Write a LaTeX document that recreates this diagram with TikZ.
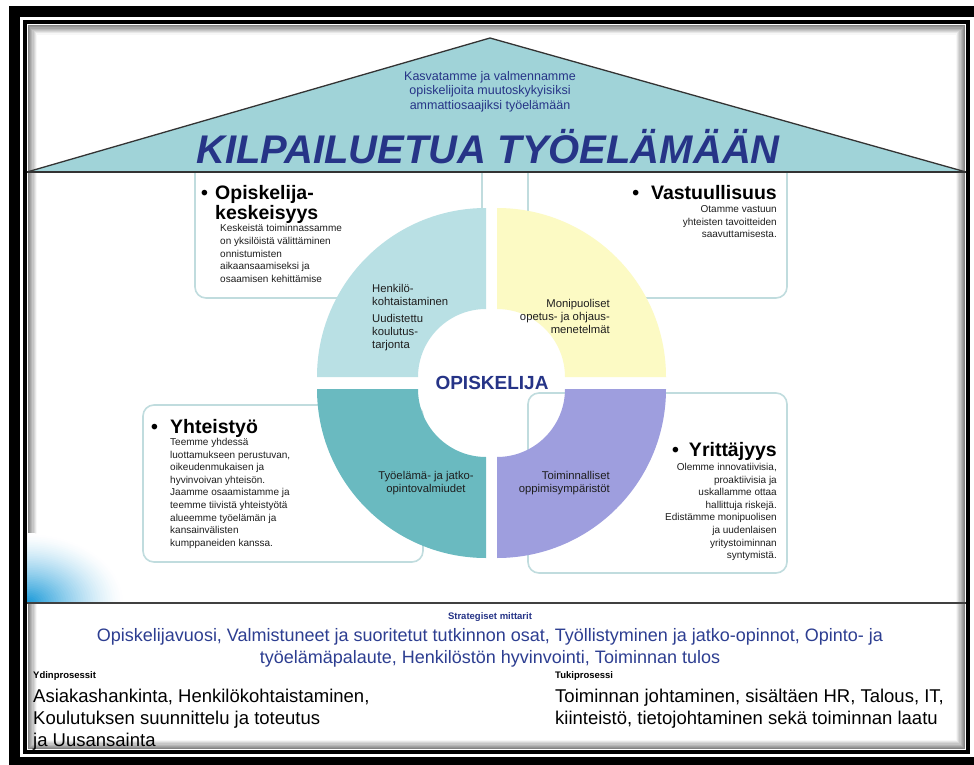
\documentclass[tikz,border=0pt]{standalone}
\usepackage{fontspec}
\setmainfont{Liberation Sans}
\definecolor{roofC}{RGB}{160,211,216}
\definecolor{tlC}{RGB}{185,224,228}
\definecolor{trC}{RGB}{252,250,196}
\definecolor{blC}{RGB}{106,186,192}
\definecolor{brC}{RGB}{158,158,222}
\definecolor{navy}{RGB}{38,52,135}
\definecolor{metblue}{RGB}{45,62,145}
\definecolor{boxline}{RGB}{192,220,222}
\definecolor{cblue}{RGB}{18,150,215}
\definecolor{txt}{RGB}{30,30,30}
\begin{document}
\begin{tikzpicture}[x=1pt,y=-1pt,
  infobox/.style={draw=boxline, line width=1.6pt, rounded corners=11pt, fill=white},
  head/.style={inner sep=0pt, font=\fontsize{19.5}{20.5}\selectfont\bfseries, text=black},
  body/.style={inner sep=0pt, font=\fontsize{10}{12.6}\selectfont, text=txt},
  quad/.style={inner sep=0pt, font=\fontsize{11.3}{13.3}\selectfont, text=txt},
  big/.style={inner sep=0pt, font=\fontsize{18.5}{22}\selectfont, text=black},
  small/.style={inner sep=0pt, font=\fontsize{9.5}{11}\selectfont\bfseries}]
\useasboundingbox (0,0) rectangle (974,765);
\fill[white] (0,0) rectangle (974,765);
% frames
\draw[line width=11pt] (14.5,11.5) rectangle (990,762);
\foreach \i in {1,...,8}{
  \pgfmathsetmacro{\g}{55-6.5*\i}
  \draw[black!\g, line width=1.2pt] (27+1.2*\i,24.5+1.2*\i) rectangle (966-1.2*\i,750-1.2*\i);
}
\draw[line width=4pt] (25,22.5) rectangle (968,752);
% blue corner
\begin{scope}
  \clip (27,500) rectangle (150,603);
  \foreach \i in {40,...,1}{
    \pgfmathsetmacro{\p}{100*(1-\i/40)^1.4}
    \fill[cblue!\p!white] (27,603) ellipse ({98*\i/40} and {70*\i/40});
  }
\end{scope}
% info boxes
\draw[infobox] (195,160) rectangle (482,298);
\draw[infobox] (528,160) rectangle (787,298);
\draw[infobox] (143,405) rectangle (423,562);
\draw[infobox] (528,393) rectangle (787,573);
% quadrants
\fill[tlC] (486,208) arc[start angle=-90, end angle=-180, radius=169] -- (418,377) arc[start angle=180, end angle=270, radius=68] -- cycle;
\fill[trC] (497,208) arc[start angle=-90, end angle=0, radius=169] -- (565,377) arc[start angle=0, end angle=-90, radius=68] -- cycle;
\fill[blC] (486,558) arc[start angle=90, end angle=180, radius=169] -- (418,389) arc[start angle=180, end angle=90, radius=68] -- cycle;
\fill[brC] (497,558) arc[start angle=90, end angle=0, radius=169] -- (565,389) arc[start angle=0, end angle=90, radius=68] -- cycle;
% roof
\fill[roofC] (27,172) -- (490,38) -- (966,172) -- cycle;
\draw[black!80, line width=1.3pt, line join=round] (27,172) -- (490,38) -- (966,172);
\draw[black!80, line width=2.5pt] (27,172) -- (966,172);
% bottom separator
\draw[black!75, line width=2pt] (27,603) -- (966,603);
% roof texts
\node[inner sep=0pt, anchor=north, align=center, text=navy, font=\fontsize{12.5}{14.5}\selectfont] (mission) at (490,71) {Kasvatamme ja valmennamme\\opiskelijoita muutoskykyisiksi\\ammattiosaajiksi työelämään};
\node[inner sep=0pt, anchor=base, text=navy, font=\fontsize{40}{41}\selectfont\bfseries\itshape] (title) at (488,163) {KILPAILUETUA TYÖELÄMÄÄN};
% box texts
\node[head, anchor=north west, align=left] (h1) at (201,185) {\makebox[14pt][l]{\textbullet}Opiskelija-\\\makebox[14pt]{}keskeisyys};
\node[body, anchor=north west, align=left] (t1) at (220,224.5) {Keskeistä toiminnassamme\\on yksilöistä välittäminen\\onnistumisten\\aikaansaamiseksi ja\\osaamisen kehittämise};
\node[head, anchor=north east] (h2) at (777,185) {\textbullet\hspace{12pt}Vastuullisuus};
\node[body, anchor=north east, align=right] (t2) at (777,205.5) {Otamme vastuun\\yhteisten tavoitteiden\\saavuttamisesta.};
\node[head, anchor=north west] (h3) at (151,419) {\makebox[19pt][l]{\textbullet}Yhteistyö};
\node[body, anchor=north west, align=left] (t3) at (170,438) {Teemme yhdessä\\luottamukseen perustuvan,\\oikeudenmukaisen ja\\hyvinvoivan yhteisön.\\Jaamme osaamistamme ja\\ teemme tiivistä yhteistyötä\\alueemme työelämän ja\\kansainvälisten\\kumppaneiden kanssa.};
\node[head, anchor=north east] (h4) at (777,442) {\textbullet\hspace{10pt}Yrittäjyys};
\node[body, anchor=north east, align=right] (t4) at (777,463) {Olemme innovatiivisia,\\proaktiivisia ja\\uskallamme ottaa\\hallittuja riskejä.\\Edistämme monipuolisen\\ja uudenlaisen\\yritystoiminnan\\syntymistä.};
% quadrant texts
\node[quad, anchor=north west, align=left] (q1a) at (372,284) {Henkilö-\\kohtaistaminen};
\node[quad, anchor=north west, align=left] (q1b) at (372,314) {Uudistettu\\koulutus-\\tarjonta};
\node[quad, anchor=north east, align=right] (q2) at (610,299) {Monipuoliset\\opetus- ja ohjaus-\\menetelmät};
\node[quad, anchor=north, align=center] (q3) at (426,471) {Työelämä- ja jatko-\\opintovalmiudet};
\node[quad, anchor=north east, align=right] (q4) at (610,471) {Toiminnalliset\\oppimisympäristöt};
\node[inner sep=0pt, text=navy, font=\fontsize{19}{20}\selectfont\bfseries] (center) at (492,383) {OPISKELIJA};
% bottom texts
\node[small, text=navy] (strat) at (490,617) {Strategiset mittarit};
\node[inner sep=0pt, anchor=north, align=center, text=metblue, font=\fontsize{18}{22}\selectfont] (metrics) at (490,628.5) {Opiskelijavuosi, Valmistuneet ja suoritetut tutkinnon osat, Työllistyminen ja jatko-opinnot, Opinto- ja\\työelämäpalaute, Henkilöstön hyvinvointi, Toiminnan tulos};
\node[small, anchor=west, text=black] (ydin) at (33,676) {Ydinprosessit};
\node[big, anchor=north west, align=left] (ydintxt) at (33,689) {Asiakashankinta, Henkilökohtaistaminen,\\Koulutuksen suunnittelu ja toteutus\\ja Uusansainta};
\node[small, anchor=west, text=black] (tuki) at (555,676) {Tukiprosessi};
\node[big, anchor=north west, align=left] (tukitxt) at (555,689) {Toiminnan johtaminen, sisältäen HR, Talous, IT,\\kiinteistö, tietojohtaminen sekä toiminnan laatu};
\end{tikzpicture}
\end{document}
